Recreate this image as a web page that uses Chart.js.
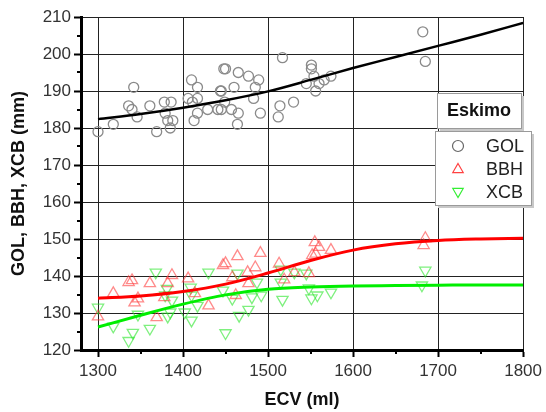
<!DOCTYPE html>
<html>
<head>
<meta charset="utf-8">
<script src="https://cdn.jsdelivr.net/npm/chart.js@4"></script>
<style>
  html, body { margin: 0; padding: 0; background: #fff; }
  #wrap { width: 546px; height: 412px; position: relative; }
</style>
</head>
<body>
<div id="wrap"><canvas id="chart"></canvas></div>
<script>
const FONT = '"Liberation Sans", Arial, sans-serif';

const xTicks = [1300, 1400, 1500, 1600, 1700, 1800];
const yTicks = [120, 130, 140, 150, 160, 170, 180, 190, 200, 210];

const golX = [1300, 1318, 1336, 1340, 1342, 1346, 1361, 1369, 1378, 1386, 1379, 1382, 1388, 1385,
  1406, 1410, 1411, 1417, 1417, 1417, 1413, 1429, 1441, 1444, 1448, 1450, 1465, 1477, 1489, 1485,
  1460, 1445, 1483, 1449, 1457, 1465, 1445, 1464, 1491, 1512, 1514, 1517, 1530, 1545, 1551, 1551,
  1554, 1556, 1560, 1566, 1574, 1682, 1685];
const golY = [179, 181, 186, 185, 191, 183, 186, 179, 187, 187, 184, 182, 182, 180,
  188, 193, 187, 191, 188, 184, 182, 185, 185, 190, 196, 196, 195, 194, 193, 191,
  191, 190, 188, 187, 185, 184, 185, 181, 184, 183, 186, 199, 187, 192, 197, 196,
  194, 190, 192, 193, 194, 206, 198];

const bbhX = [1300, 1318, 1336, 1340, 1343, 1347, 1361, 1369, 1378, 1382, 1387, 1406, 1414, 1430,
  1447, 1450, 1458, 1462, 1464, 1476, 1477, 1485, 1491, 1513, 1519, 1531, 1548, 1552, 1555, 1556,
  1560, 1574, 1683, 1685];
const bbhY = [129, 135.3, 138.3, 138.8, 132.8, 133.9, 138, 128.8, 134.2, 138, 140.2, 139.3, 135.3, 132,
  142.9, 143.4, 139.6, 134.8, 145.3, 141, 138, 142.3, 146.2, 143.3, 139, 141, 140.7, 145.6, 149.1, 146,
  147.8, 147, 148.3, 150.2];

const xcbX = [1300, 1318, 1336, 1341, 1347, 1361, 1368, 1379, 1381, 1382, 1385, 1387, 1402, 1409,
  1410, 1410, 1417, 1430, 1447, 1450, 1458, 1464, 1466, 1477, 1481, 1487, 1492, 1515, 1515, 1517,
  1531, 1545, 1548, 1551, 1558, 1574, 1681, 1685];
const xcbY = [131.5, 126.4, 122.5, 124.7, 129.6, 125.8, 141, 134.8, 136.6, 129.1, 130.2, 133.4, 130.2, 136.9,
  134.8, 128, 132, 141, 136.1, 124.6, 133.9, 140.7, 129.3, 130.9, 134.3, 138.3, 134.8, 141.8, 138.3, 133.6,
  141, 140.7, 136.7, 134, 134.8, 135.6, 137.5, 141.5];

// fitted curves
const fitX = [1300, 1350, 1400, 1450, 1500, 1550, 1600, 1650, 1700, 1750, 1800];
const golFit = [182.4, 183.8, 185.5, 187.5, 189.9, 193, 196.2, 199.2, 202.2, 205.2, 208.4];
const bbhFit = [134.0, 134.6, 135.8, 137.8, 140.8, 144.2, 147.0, 148.7, 149.6, 150.0, 150.2];
const xcbFit = [126.2, 129.4, 132.4, 134.9, 136.4, 137.0, 137.3, 137.4, 137.5, 137.6, 137.6];

const legendItems = [
  { label: 'GOL', style: 'circle', color: '#666', rot: 0 },
  { label: 'BBH', style: 'triangle', color: '#ff4040', rot: 0 },
  { label: 'XCB', style: 'triangle', color: '#33ee33', rot: 180 },
];

const pts = (xs, ys) => xs.map((x, i) => ({ x, y: ys[i] }));

function shadowBox(ctx, x, y, w, h) {
  ctx.fillStyle = '#c8c8c8';
  ctx.fillRect(x + 3, y + 3, w, h);
  ctx.fillStyle = '#fff';
  ctx.fillRect(x, y, w, h);
  ctx.strokeStyle = '#9a9a9a';
  ctx.lineWidth = 1;
  ctx.strokeRect(x + 0.5, y + 0.5, w, h);
}

function marker(ctx, style, cx, cy, r, color, rot) {
  ctx.save();
  ctx.strokeStyle = color;
  ctx.lineWidth = 1.2;
  ctx.beginPath();
  if (style === 'circle') {
    ctx.arc(cx, cy, r, 0, Math.PI * 2);
  } else {
    ctx.translate(cx, cy);
    ctx.rotate(rot * Math.PI / 180);
    ctx.moveTo(0, -r);
    ctx.lineTo(r * 0.95, r * 0.65);
    ctx.lineTo(-r * 0.95, r * 0.65);
    ctx.closePath();
  }
  ctx.stroke();
  ctx.restore();
}

const extras = {
  id: 'extras',
  afterDraw(chart) {
    const { ctx, scales } = chart;
    const xs = scales.x;
    const ys = scales.y;
    ctx.save();
    // minor ticks
    ctx.strokeStyle = '#000';
    ctx.lineWidth = 2;
    for (let v = 1350; v < 1800; v += 100) {
      const px = Math.round(xs.getPixelForValue(v));
      ctx.beginPath();
      ctx.moveTo(px, ys.bottom);
      ctx.lineTo(px, ys.bottom + 4);
      ctx.stroke();
    }
    for (let v = 125; v < 210; v += 10) {
      const py = Math.round(ys.getPixelForValue(v));
      ctx.beginPath();
      ctx.moveTo(xs.left - 4, py);
      ctx.lineTo(xs.left, py);
      ctx.stroke();
    }

    // legend title box
    shadowBox(ctx, 437, 93, 84, 35);
    ctx.fillStyle = '#111';
    ctx.font = 'bold 18px ' + FONT;
    ctx.textAlign = 'center';
    ctx.textBaseline = 'middle';
    ctx.fillText('Eskimo', 479, 111);

    // legend entries
    shadowBox(ctx, 435, 131, 96, 74);
    ctx.font = '18px ' + FONT;
    ctx.textAlign = 'left';
    legendItems.forEach((item, i) => {
      const y = 146 + i * 23;
      marker(ctx, item.style, 458, y, 5.5, item.color, item.rot);
      ctx.fillStyle = '#222';
      ctx.fillText(item.label, 486, y + 1);
    });
    ctx.restore();
  },
};

new Chart(document.getElementById('chart'), {
  type: 'scatter',
  data: {
    datasets: [
      { label: 'GOL fit', type: 'line', data: pts(fitX, golFit), borderColor: '#000', borderWidth: 2.5,
        pointRadius: 0, cubicInterpolationMode: 'monotone', order: 0 },
      { label: 'BBH fit', type: 'line', data: pts(fitX, bbhFit), borderColor: '#ff0000', borderWidth: 3,
        pointRadius: 0, cubicInterpolationMode: 'monotone', order: 0 },
      { label: 'XCB fit', type: 'line', data: pts(fitX, xcbFit), borderColor: '#00ee00', borderWidth: 3,
        pointRadius: 0, cubicInterpolationMode: 'monotone', order: 0 },
      { label: 'GOL', data: pts(golX, golY), pointStyle: 'circle', pointRadius: 5,
        borderColor: '#8a8a8a', backgroundColor: 'rgba(255,255,255,0)', borderWidth: 1.3, order: 1 },
      { label: 'BBH', data: pts(bbhX, bbhY), pointStyle: 'triangle', pointRadius: 6.5,
        borderColor: 'rgba(255,60,60,0.6)', backgroundColor: 'rgba(255,255,255,0)', borderWidth: 1.3, order: 1 },
      { label: 'XCB', data: pts(xcbX, xcbY), pointStyle: 'triangle', pointRotation: 180, pointRadius: 6.5,
        borderColor: 'rgba(40,230,40,0.6)', backgroundColor: 'rgba(255,255,255,0)', borderWidth: 1.3, order: 1 },
    ],
  },
  options: {
    responsive: true,
    maintainAspectRatio: false,
    animation: false,
    events: [],
    layout: { padding: { top: 17, right: 21, left: 0, bottom: 0 } },
    plugins: { legend: { display: false }, tooltip: { enabled: false } },
    scales: {
      x: {
        type: 'linear',
        min: 1280,
        max: 1800,
        afterBuildTicks: (scale) => { scale.ticks = xTicks.map((value) => ({ value })); },
        afterFit: (scale) => { scale.height = 62; },
        ticks: { font: { family: FONT, size: 17 }, color: '#333', padding: 4, callback: (v) => String(v) },
        grid: { color: '#222', lineWidth: 1, tickLength: 7, tickColor: '#000', tickWidth: 2 },
        border: { color: '#000', width: 3 },
        title: { display: true, text: 'ECV (ml)', font: { family: FONT, size: 18, weight: 'bold' },
          color: '#111', padding: { top: 0, bottom: 1 } },
      },
      y: {
        min: 120,
        max: 210,
        afterBuildTicks: (scale) => { scale.ticks = yTicks.map((value) => ({ value })); },
        afterFit: (scale) => { scale.width = 81; },
        ticks: { font: { family: FONT, size: 17 }, color: '#333', padding: 3, callback: (v) => String(v) },
        grid: { color: '#222', lineWidth: 1, tickLength: 7, tickColor: '#000', tickWidth: 2 },
        border: { color: '#000', width: 3 },
        title: { display: true, text: 'GOL, BBH, XCB (mm)', font: { family: FONT, size: 18, weight: 'bold' },
          color: '#111', padding: { top: 8, bottom: 0 } },
      },
    },
  },
  plugins: [extras],
});
</script>
</body>
</html>
